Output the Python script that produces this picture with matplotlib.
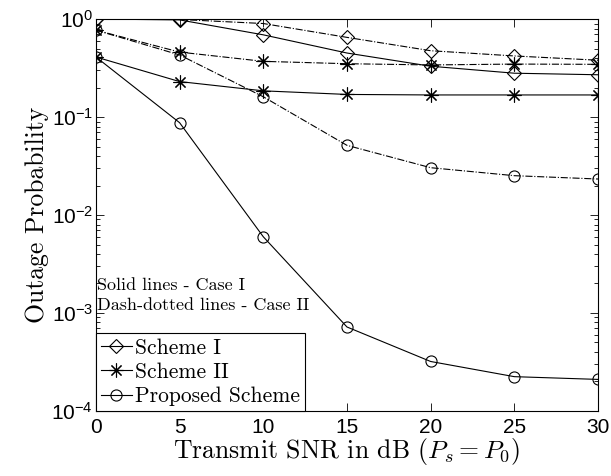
import numpy as np
import matplotlib.pyplot as plt
from matplotlib.lines import Line2D

plt.rcParams['mathtext.fontset'] = 'cm'
plt.rcParams['axes.unicode_minus'] = False

snr_db = [0, 5, 10, 15, 20, 25, 30]

# Case I (solid lines)
scheme1_case1 = [1.0, 0.98, 0.69, 0.45, 0.33, 0.28, 0.27]
scheme2_case1 = [0.41, 0.23, 0.185, 0.17, 0.168, 0.168, 0.168]
proposed_case1 = [0.41, 0.0875, 0.006, 7.2e-4, 3.2e-4, 2.24e-4, 2.1e-4]

# Case II (dash-dotted lines)
scheme1_case2 = [1.0, 0.99, 0.90, 0.65, 0.475, 0.42, 0.38]
scheme2_case2 = [0.77, 0.46, 0.37, 0.35, 0.34, 0.347, 0.345]
proposed_case2 = [0.77, 0.43, 0.161, 0.0514, 0.0304, 0.0252, 0.0233]

yticks = [1e-4, 1e-3, 1e-2, 1e-1, 1e0]
ytick_labels = [r'$\mathregular{10^{-4}}$', r'$\mathregular{10^{-3}}$',
                r'$\mathregular{10^{-2}}$', r'$\mathregular{10^{-1}}$',
                r'$\mathregular{10^{0}}$']

serif = 'cmr10'
sans = 'Liberation Sans'
asterisk = (8, 2, 0)

fig = plt.figure(figsize=(6.11, 4.76), dpi=100)
ax = fig.add_axes([0.157, 0.1366, 0.8217, 0.8234])

mk = dict(color='black', linewidth=0.8, markerfacecolor='none',
          markeredgecolor='black', markeredgewidth=0.8)

ax.plot(snr_db, scheme1_case1, '-', marker='D', markersize=7, **mk)
ax.plot(snr_db, scheme2_case1, '-', marker=asterisk, markersize=10, **mk)
ax.plot(snr_db, proposed_case1, '-', marker='o', markersize=8, **mk)
ax.plot(snr_db, scheme1_case2, '-.', marker='D', markersize=7, **mk)
ax.plot(snr_db, scheme2_case2, '-.', marker=asterisk, markersize=10, **mk)
ax.plot(snr_db, proposed_case2, '-.', marker='o', markersize=8, **mk)

ax.set_yscale('log')
ax.set_xlim(0, 30)
ax.set_ylim(1e-4, 1)
ax.set_xticks(snr_db)
ax.set_xticklabels([str(v) for v in snr_db], fontfamily=sans, fontsize=15)
ax.set_yticks(yticks)
ax.set_yticklabels(ytick_labels, fontfamily=sans, fontsize=15)
ax.tick_params(which='both', direction='in', top=True, right=True,
               width=0.6)
ax.tick_params(axis='x', pad=5)
ax.tick_params(axis='y', pad=2)
ax.tick_params(which='major', length=6)
ax.tick_params(which='minor', length=3)
ax.minorticks_on()
ax.xaxis.set_minor_locator(plt.NullLocator())
for s in ax.spines.values():
    s.set_linewidth(0.8)

ax.set_xlabel(r'Transmit SNR in dB ($P_s = P_0$)', fontfamily=serif,
              fontsize=18.5, labelpad=-1)
ax.set_ylabel('Outage Probability', fontfamily=serif, fontsize=18.5,
              labelpad=2)

ax.text(0.003, 0.321, 'Solid lines - Case I', transform=ax.transAxes,
        fontfamily=serif, fontsize=13, va='center', ha='left')
ax.text(0.003, 0.270, 'Dash-dotted lines - Case II', transform=ax.transAxes,
        fontfamily=serif, fontsize=13, va='center', ha='left')

handles = [
    Line2D([], [], linestyle='-', marker='D', markersize=7, **mk),
    Line2D([], [], linestyle='-', marker=asterisk, markersize=10, **mk),
    Line2D([], [], linestyle='-', marker='o', markersize=8, **mk),
]
leg = ax.legend(handles, ['Scheme I', 'Scheme II', 'Proposed Scheme'],
                loc='lower left', borderaxespad=0, fancybox=False,
                prop={'family': serif, 'size': 15.5}, handlelength=1.45,
                handletextpad=0.15, labelspacing=0.22, borderpad=0.22,
                framealpha=1)
leg.get_frame().set_edgecolor('black')
leg.get_frame().set_linewidth(0.8)

plt.savefig('out.png', dpi=100)
